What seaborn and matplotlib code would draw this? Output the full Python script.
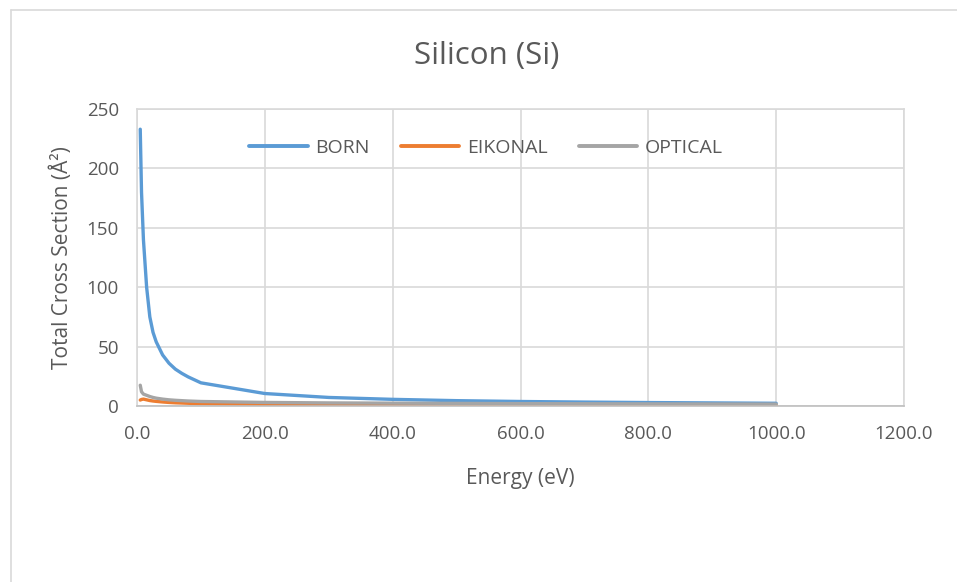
import matplotlib
matplotlib.use("Agg")
import matplotlib.pyplot as plt
from matplotlib.lines import Line2D
import seaborn as sns
import pandas as pd

# Incident electron energy (eV)
energy = [5, 7, 10, 15, 20, 25, 30, 40, 50, 60, 70, 80, 90, 100,
          200, 300, 400, 500, 600, 700, 800, 900, 1000]

# Total cross sections (Å²) for silicon from three approximations
born = [233, 180, 140, 100, 75, 62, 54, 43, 36, 31, 27.5, 24.5, 22, 19.5,
        10.5, 7.2, 5.6, 4.5, 3.8, 3.3, 2.9, 2.6, 2.3]
eikonal = [5.0, 5.5, 5.8, 5.2, 4.6, 4.2, 3.9, 3.4, 3.0, 2.7, 2.5, 2.3, 2.1, 2.0,
           1.4, 1.1, 0.95, 0.85, 0.75, 0.7, 0.65, 0.6, 0.55]
optical = [17.5, 12, 10, 9, 8, 7.2, 6.6, 5.8, 5.2, 4.8, 4.5, 4.2, 4.0, 3.8,
           3.0, 2.6, 2.4, 2.2, 2.0, 1.9, 1.8, 1.7, 1.6]

series_names = ["BORN", "EIKONAL", "OPTICAL"]
x_ticks = [0, 200, 400, 600, 800, 1000, 1200]
y_ticks = [0, 50, 100, 150, 200, 250]

df = pd.DataFrame({
    "Energy": energy * 3,
    "Cross": born + eikonal + optical,
    "Method": sum([[n] * len(energy) for n in series_names], []),
})

sns.set_theme(style="white")
plt.rcParams["font.family"] = ["Open Sans", "DejaVu Sans"]
text_color = "#595959"
grid_color = "#D9D9D9"

fig = plt.figure(figsize=(9.57, 5.82), dpi=100)
ax = fig.add_axes([0.1432, 0.3024, 0.8014, 0.5103])

palette = {"BORN": "#5B9BD5", "EIKONAL": "#ED7D31", "OPTICAL": "#A5A5A5"}
sns.lineplot(data=df, x="Energy", y="Cross", hue="Method", palette=palette,
             linewidth=2.4, ax=ax, sort=False, estimator=None)

ax.set_xlim(0, 1200)
ax.set_ylim(0, 250)
ax.set_xticks(x_ticks)
ax.set_yticks(y_ticks)
ax.set_xticklabels([f"{t:.1f}" for t in x_ticks])
ax.set_yticklabels([str(t) for t in y_ticks])
ax.tick_params(axis="both", length=0, labelsize=13.5, colors=text_color)
ax.tick_params(axis="x", pad=14)
ax.tick_params(axis="y", pad=13)
ax.grid(True, color=grid_color, linewidth=1.2)
ax.set_axisbelow(True)
for side in ["top", "right", "left"]:
    ax.spines[side].set_color(grid_color)
    ax.spines[side].set_linewidth(1.2)
ax.spines["bottom"].set_color("#BFBFBF")
ax.spines["bottom"].set_linewidth(1.2)

ax.set_xlabel("Energy (eV)", fontsize=15, color=text_color, labelpad=18)
ax.set_ylabel("Total Cross Section (Å²)", fontsize=15, color=text_color, labelpad=10)

handles, labels = ax.get_legend_handles_labels()
leg = ax.legend(handles, labels, loc="center", bbox_to_anchor=(0.455, 0.87),
                ncol=3, frameon=False, fontsize=14, handlelength=3.0,
                columnspacing=1.6, handletextpad=0.4)
for t in leg.get_texts():
    t.set_color(text_color)
for h in leg.get_lines():
    h.set_linewidth(2.8)

fig.text(0.509, 0.903, "Silicon (Si)", ha="center", va="center",
         fontsize=22.5, color=text_color)

# Chart-area border along the left and top edges
fig.add_artist(Line2D([10.5 / 957, 10.5 / 957], [0, 1 - 9.5 / 582],
                      transform=fig.transFigure, color="#D9D9D9", linewidth=1.2))
fig.add_artist(Line2D([10.5 / 957, 1], [1 - 9.5 / 582, 1 - 9.5 / 582],
                      transform=fig.transFigure, color="#D9D9D9", linewidth=1.2))

fig.savefig("out.png", dpi=100, facecolor="white")
